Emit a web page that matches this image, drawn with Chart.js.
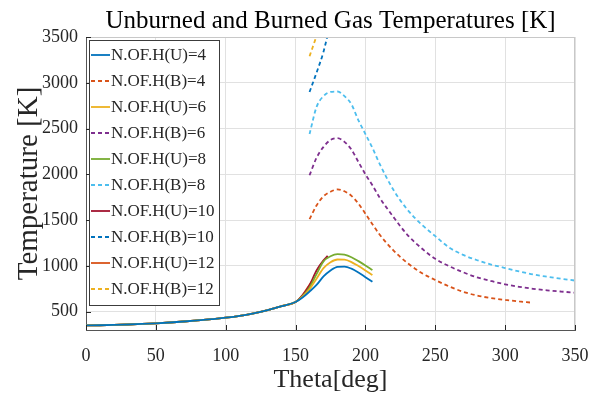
<!DOCTYPE html>
<html>
<head>
<meta charset="utf-8">
<script src="https://cdn.jsdelivr.net/npm/chart.js@4.4.0/dist/chart.umd.min.js"></script>
<style>
  html, body { margin: 0; padding: 0; background: #fff; }
  canvas { display: block; }
</style>
</head>
<body>
<canvas id="graph-canvas" width="590" height="396"></canvas>
<script>
// crank angle [deg] and temperature [K] shared by every unburned curve up to 150 deg
const thetaComp = [0, 10, 20, 30, 40, 50, 60, 70, 80, 90, 100, 110, 120, 130, 140, 150]
const tempComp = [350, 352, 355, 360, 366, 373, 382, 393, 405, 419, 434, 454, 482, 516, 560, 606]

// unburned gas after 150 deg
const thetaU = [155, 160, 165, 170, 175, 180, 185, 190, 195, 200, 205]
const tempU4 = [655, 720, 792, 885, 950, 990, 992, 970, 928, 877, 826]
const tempU6 = [665, 745, 860, 975, 1040, 1070, 1068, 1042, 998, 950, 900]
const tempU8 = [670, 765, 910, 1050, 1105, 1128, 1122, 1095, 1052, 1005, 956]
const thetaU10 = [155, 160, 165, 170, 173]
const tempU10 = [680, 790, 950, 1060, 1110]
const thetaU12 = [155, 160, 162]
const tempU12 = [682, 795, 840]

// burned gas
const thetaB4 = [160, 165, 170, 175, 180, 185, 190, 195, 200, 205, 210, 220, 230, 240, 250, 260, 270, 280, 290, 300, 310, 318]
const tempB4 = [1510, 1660, 1760, 1810, 1835, 1815, 1765, 1680, 1570, 1455, 1345, 1170, 1032, 925, 846, 775, 717, 676, 648, 628, 612, 600]
const thetaB = [160, 165, 170, 175, 180, 185, 190, 195, 200, 205, 210, 220, 230, 240, 250, 260, 270, 280, 290, 300, 310, 320, 330, 340, 350]
const tempB6 = [1990, 2180, 2300, 2375, 2395, 2355, 2270, 2135, 2000, 1880, 1750, 1535, 1340, 1195, 1077, 996, 930, 875, 835, 799, 772, 750, 733, 720, 708]
const tempB8 = [2440, 2735, 2855, 2900, 2905, 2855, 2765, 2590, 2440, 2290, 2120, 1831, 1615, 1455, 1325, 1200, 1120, 1062, 1015, 977, 940, 907, 882, 860, 840]
const thetaB10 = [160, 165, 170, 175]
const tempB10 = [2900, 3110, 3340, 3660]
const thetaB12 = [160, 162, 164, 168]
const tempB12 = [3290, 3378, 3466, 3650]

const xTicks = [0, 50, 100, 150, 200, 250, 300, 350]
const yTicks = [500, 1000, 1500, 2000, 2500, 3000, 3500]

const serif = '"Liberation Serif", "Times New Roman", serif'
const ink = '#262626'

toPoints = (xs, ys) => xs.map((x, i) => ({ x: x, y: ys[i] }))

unburned = (label, xs, ys, color) => ({
    label: label,
    data: toPoints(thetaComp.concat(xs), tempComp.concat(ys)),
    borderColor: color,
    borderWidth: 1.8,
    pointRadius: 0,
    cubicInterpolationMode: 'monotone'
})

burned = (label, xs, ys, color) => ({
    label: label,
    data: toPoints(xs, ys),
    borderColor: color,
    borderWidth: 1.8,
    borderDash: [4, 3],
    pointRadius: 0,
    cubicInterpolationMode: 'monotone'
})

const datasets = [
    unburned('N.OF.H(U)=4', thetaU, tempU4, '#0072BD'),
    burned('N.OF.H(B)=4', thetaB4, tempB4, '#D95319'),
    unburned('N.OF.H(U)=6', thetaU, tempU6, '#EDB120'),
    burned('N.OF.H(B)=6', thetaB, tempB6, '#7E2F8E'),
    unburned('N.OF.H(U)=8', thetaU, tempU8, '#77AC30'),
    burned('N.OF.H(B)=8', thetaB, tempB8, '#4DBEEE'),
    unburned('N.OF.H(U)=10', thetaU10, tempU10, '#A2142F'),
    burned('N.OF.H(B)=10', thetaB10, tempB10, '#0072BD'),
    unburned('N.OF.H(U)=12', thetaU12, tempU12, '#D95319'),
    burned('N.OF.H(B)=12', thetaB12, tempB12, '#EDB120')
]

// box, inward ticks, legend inside the axes and the title, matlab style
const matlabLook = {
    id: 'matlabLook',
    afterDatasetsDraw: (chart) => {
        const ctx = chart.ctx
        const area = chart.chartArea
        const xs = chart.scales.x
        const ys = chart.scales.y
        ctx.save()

        ctx.strokeStyle = '#c8c8c8'
        ctx.lineWidth = 1
        ctx.beginPath()
        ctx.moveTo(area.left, area.top + 0.5)
        ctx.lineTo(area.right, area.top + 0.5)
        ctx.moveTo(area.right - 0.5, area.top)
        ctx.lineTo(area.right - 0.5, area.bottom)
        ctx.stroke()

        ctx.strokeStyle = ink
        ctx.beginPath()
        xTicks.forEach((v) => {
            const px = Math.round(xs.getPixelForValue(v)) + 0.5
            ctx.moveTo(px, area.bottom)
            ctx.lineTo(px, area.bottom - 5)
        })
        yTicks.forEach((v) => {
            const py = Math.round(ys.getPixelForValue(v)) + 0.5
            ctx.moveTo(area.left, py)
            ctx.lineTo(area.left + 5, py)
        })
        ctx.stroke()

        // legend
        const left = area.left + 3
        const top = area.top + 3
        const rowH = 26
        const boxW = 130
        const boxH = rowH * chart.data.datasets.length + 5
        ctx.fillStyle = '#ffffff'
        ctx.fillRect(left, top, boxW, boxH)
        ctx.strokeStyle = '#3c3c3c'
        ctx.strokeRect(left + 0.5, top + 0.5, boxW, boxH)
        ctx.font = '17px ' + serif
        ctx.textBaseline = 'middle'
        ctx.textAlign = 'left'
        chart.data.datasets.forEach((ds, i) => {
            const cy = top + 15 + i * rowH
            ctx.strokeStyle = ds.borderColor
            ctx.lineWidth = 1.8
            ctx.setLineDash(ds.borderDash || [])
            ctx.beginPath()
            ctx.moveTo(left + 2, cy)
            ctx.lineTo(left + 21, cy)
            ctx.stroke()
            ctx.setLineDash([])
            ctx.fillStyle = ink
            ctx.fillText(ds.label, left + 22, cy + 1)
        })

        ctx.font = '25px ' + serif
        ctx.textAlign = 'center'
        ctx.textBaseline = 'alphabetic'
        ctx.fillStyle = '#000'
        ctx.fillText('Unburned and Burned Gas Temperatures [K]', (area.left + area.right) / 2, 28)
        ctx.restore()
    }
}

createChart = () => {
    const chart = new Chart(document.getElementById('graph-canvas'), {
        type: 'line',
        data: { datasets: datasets },
        options: {
            responsive: false,
            animation: false,
            layout: { padding: { top: 37, right: 0, left: 0, bottom: 0 } },
            plugins: {
                legend: { display: false },
                title: { display: false },
                tooltip: { enabled: false }
            },
            scales: {
                x: {
                    type: 'linear',
                    min: 0,
                    max: 350,
                    afterBuildTicks: (s) => { s.ticks = xTicks.map((v) => ({ value: v })) },
                    afterFit: (s) => {
                        s.height = 66
                        s.paddingLeft = 0
                        s.paddingRight = 15
                    },
                    grid: { color: '#e1e1e1', drawTicks: false },
                    border: { color: '#555555' },
                    ticks: { font: { family: serif, size: 18 }, color: ink, padding: 15, maxRotation: 0, callback: (v) => String(v) },
                    title: { display: true, text: 'Theta[deg]', font: { family: serif, size: 26 }, color: ink, padding: 0 }
                },
                y: {
                    min: 300,
                    max: 3500,
                    afterBuildTicks: (s) => { s.ticks = yTicks.map((v) => ({ value: v })) },
                    afterFit: (s) => { s.width = 86 },
                    grid: { color: '#e1e1e1', drawTicks: false },
                    border: { color: '#555555' },
                    ticks: { font: { family: serif, size: 18 }, color: ink, padding: 8, callback: (v) => String(v) },
                    title: { display: true, text: 'Temperature [K]', font: { family: serif, size: 29 }, color: ink, padding: { top: 12, bottom: 0 } }
                }
            }
        },
        plugins: [matlabLook]
    })
}

createChart()
</script>
</body>
</html>
